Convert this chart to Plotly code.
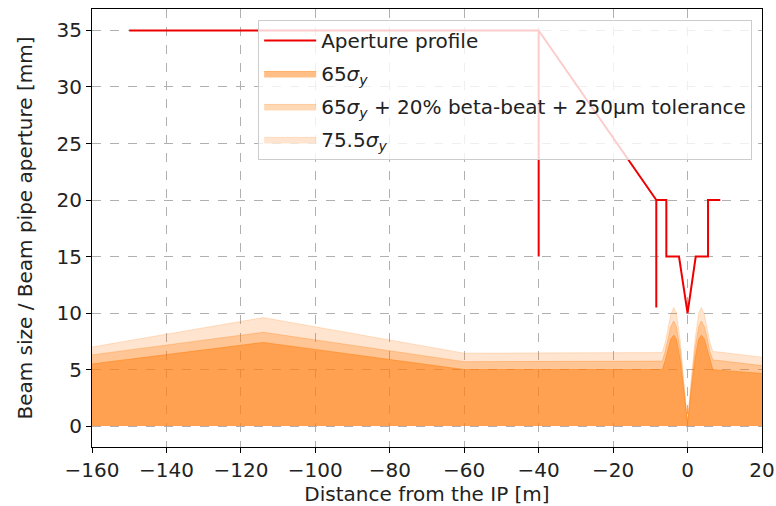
import plotly.graph_objects as go

# Aperture profile (distance from IP [m], radius [mm])
ap_s = [-150, -40, -40, -40, -8.4, -8.4, -8.4, -5.7, -5.7, -2.3, 0, 2.2, 5.5, 5.5, 8.8]
ap_r = [35, 35, 15, 35, 20, 10.5, 20, 20, 15, 15, 10, 15, 15, 20, 20]

# Beam envelopes
env_s = [-160, -114, -60, -6.8, -6.0, -5.2, -4.5, -3.7, -3.0, -2.0, -1.0, 0.0,
         1.0, 2.0, 3.0, 3.7, 4.5, 5.2, 6.0, 6.8, 8.5, 20]
env_65 = [5.5, 7.4, 5.0, 5.0, 5.8, 6.9, 7.7, 8.05, 7.7, 5.9, 3.2, 0.25,
          3.2, 5.9, 7.7, 8.05, 7.7, 6.9, 5.8, 5.0, 4.95, 4.65]
env_tol = [6.3, 8.3, 5.7, 5.75, 6.6, 7.9, 8.8, 9.3, 8.8, 6.8, 3.7, 0.3,
           3.7, 6.8, 8.8, 9.3, 8.8, 7.9, 6.6, 5.85, 5.8, 5.35]
env_755 = [7.0, 9.6, 6.45, 6.5, 7.4, 8.8, 9.9, 10.5, 10.0, 7.6, 4.2, 0.4,
           4.2, 7.6, 10.0, 10.5, 9.9, 8.8, 7.4, 6.6, 6.55, 6.1]

x_ticks = [-160, -140, -120, -100, -80, -60, -40, -20, 0, 20]
y_ticks = [0, 5, 10, 15, 20, 25, 30, 35]

FONT = "DejaVu Sans"
TXT = "#222"
fig = go.Figure()

fills = [
    (env_65, "65<i>σ</i><sub><i>y</i></sub>", 0.5, 2),
    (env_tol, "65<i>σ</i><sub><i>y</i></sub> + 20% beta-beat + 250µm tolerance", 0.3, 3),
    (env_755, "75.5<i>σ</i><sub><i>y</i></sub>", 0.2, 4),
]
for ys, name, a, rank in fills:
    col = f"rgba(255,127,14,{a})"
    fig.add_trace(go.Scatter(
        x=env_s, y=ys, mode="lines", fill="tozeroy", fillcolor=col,
        line=dict(color=col, width=1), name=name, legendrank=rank,
        legendgroup=name, hoverinfo="skip"))

fig.add_trace(go.Scatter(
    x=ap_s, y=ap_r, mode="lines", line=dict(color="#ee0000", width=2),
    name="Aperture profile", legendrank=1, legendgroup="ap"))

axis_common = dict(
    showline=True, linecolor="black", linewidth=1, mirror=True,
    ticks="outside", ticklen=5, tickcolor="black", automargin=False,
    showgrid=True, gridcolor="#b0b0b0", griddash="dash", gridwidth=1,
    zeroline=False, tickfont=dict(family=FONT, size=20, color=TXT),
)

fig.update_xaxes(range=[-160, 20], tickvals=x_ticks,
                 ticktext=[str(v).replace("-", "−") for v in x_ticks],
                 title=dict(text="Distance from the IP [m]",
                            font=dict(family=FONT, size=20, color=TXT), standoff=4),
                 **axis_common)
fig.update_yaxes(range=[-1.85, 36.9], tickvals=y_ticks,
                 title=dict(text="Beam size / Beam pipe aperture [mm]",
                            font=dict(family=FONT, size=20, color=TXT), standoff=18),
                 **axis_common)

fig.update_layout(
    width=776, height=506,
    margin=dict(l=92, r=14, t=9, b=59),
    plot_bgcolor="white", paper_bgcolor="white",
    font=dict(family=FONT, size=20, color=TXT),
    legend=dict(x=0.248, y=0.975, xanchor="left", yanchor="top",
                bgcolor="rgba(255,255,255,0.8)", bordercolor="#cccccc", borderwidth=1,
                font=dict(family=FONT, size=20, color=TXT),
                traceorder="grouped", tracegroupgap=4, itemwidth=52),
    showlegend=True,
)

fig.write_html("out.html", config={"displayModeBar": False},
               post_script="document.body.style.margin='0';document.body.style.overflow='hidden';")
